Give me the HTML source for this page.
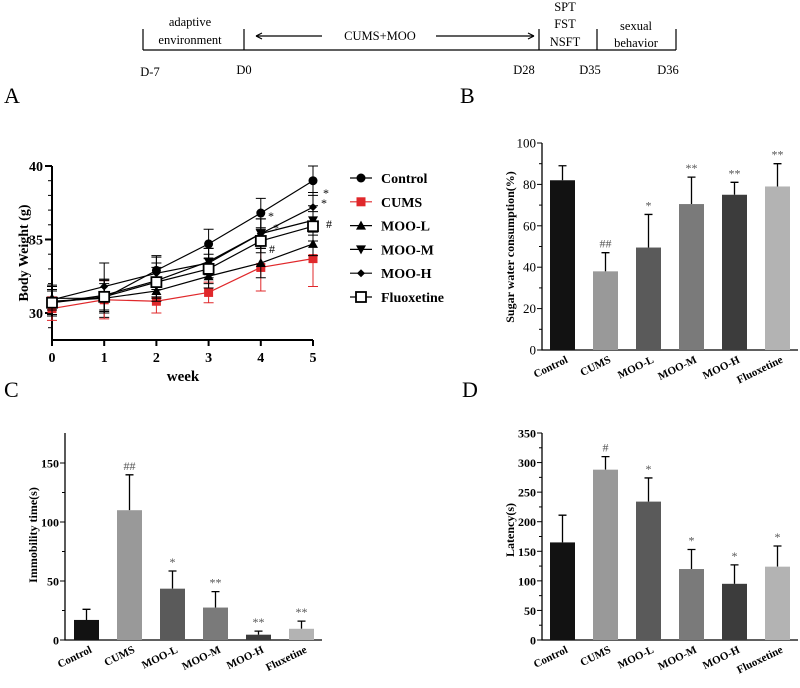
<!DOCTYPE html>
<html><head><meta charset="utf-8"><style>
body{margin:0;background:#fff;width:800px;height:683px;overflow:hidden}
svg{font-family:"Liberation Serif",serif}
</style></head><body>
<svg id="fig" width="800" height="683" viewBox="0 0 800 683" xmlns="http://www.w3.org/2000/svg">
<g stroke="#000" fill="none" stroke-width="1.2">
<line x1="143" y1="50" x2="676" y2="50"/>
<line x1="143" y1="29" x2="143" y2="50"/><line x1="244" y1="29" x2="244" y2="50"/>
<line x1="539" y1="29" x2="539" y2="50"/><line x1="597" y1="29" x2="597" y2="50"/><line x1="676" y1="29" x2="676" y2="50"/>
<line x1="256" y1="36" x2="322" y2="36"/><line x1="436" y1="36" x2="534" y2="36"/>
<path d="M256 36 l6 -3 M256 36 l6 3 M534 36 l-6 -3 M534 36 l-6 3"/>
</g>
<g font-size="12.5" text-anchor="middle" fill="#000">
<text x="190" y="26">adaptive</text><text x="190" y="44">environment</text>
<text x="380" y="40">CUMS+MOO</text>
<text x="565" y="11">SPT</text><text x="565" y="28">FST</text><text x="565" y="46">NSFT</text>
<text x="636" y="30">sexual</text><text x="636" y="47">behavior</text>
<text x="150" y="76">D-7</text><text x="244" y="74">D0</text><text x="524" y="74">D28</text><text x="590" y="74">D35</text><text x="668" y="74">D36</text>
</g>
<g font-size="22" fill="#000">
<text x="4" y="103">A</text>
<text x="460" y="103">B</text>
<text x="4" y="397">C</text>
<text x="462" y="397">D</text>
</g>
<g id="pa"></g>
<g id="pb"></g>
<g id="pc"></g>
<g id="pd"></g>
</svg>
<script>
const NS="http://www.w3.org/2000/svg";
// Panel A data
const weeks=[0,1,2,3,4,5];
const lineSeries=["Control","CUMS","MOO-L","MOO-M","MOO-H","Fluoxetine"];
const controlW=[30.8,31.0,32.9,34.7,36.8,39.0];
const cumsW=[30.3,30.9,30.8,31.4,33.1,33.7];
const mooLW=[31.0,31.0,31.5,32.5,33.4,34.7];
const mooMW=[30.7,31.2,32.2,33.5,35.4,36.3];
const mooHW=[30.9,31.8,32.7,33.4,35.4,37.2];
const fluoxW=[30.7,31.1,32.1,33.0,34.9,35.9];
const controlE=[1.0,1.3,1.0,1.0,1.0,1.0];
const cumsE=[0.8,1.3,0.8,0.7,1.6,1.9];
const mooLE=[0.8,1.0,0.7,0.8,1.0,0.8];
const mooME=[0.9,1.1,1.2,0.9,1.0,1.0];
const mooHE=[1.0,1.6,1.1,1.0,1.0,1.0];
const fluoxE=[0.8,1.1,1.0,1.0,0.8,1.0];
const weightTicks=[30,35,40];
// Bar panels
const groups=["Control","CUMS","MOO-L","MOO-M","MOO-H","Fluoxetine"];
const groupsC=["Control","CUMS","MOO-L","MOO-M","MOO-H","Fluxetine"];
const sucrose=[82,38,49.5,70.5,75,79];
const sucroseErr=[7,9,16,13,6,11];
const sucroseSig=["","##","*","**","**","**"];
const sucroseTicks=[0,20,40,60,80,100];
const immob=[17,110,43.5,27.5,4.5,9.5];
const immobErr=[9,30,15,13.5,3,6.5];
const immobSig=["","##","*","**","**","**"];
const immobTicks=[0,50,100,150];
const latency=[165,288,234,120,95,124];
const latencyErr=[46,22,40,33,32,35];
const latencySig=["","#","*","*","*","*"];
const latencyTicks=[0,50,100,150,200,250,300,350];

function el(p,t,a){const e=document.createElementNS(NS,t);for(const k in a)e.setAttribute(k,a[k]);p.appendChild(e);return e;}
function txt(p,x,y,s,a){const e=el(p,"text",Object.assign({x:x,y:y},a||{}));e.textContent=s;return e;}

// ---- Panel A
(function(){
const g=document.getElementById("pa");
const X=w=>52+w*52.2, Y=v=>313-(v-30)*14.7;
const ax=el(g,"path",{d:`M52 166 V340 H313`,stroke:"#000","stroke-width":2,fill:"none"});


for(let v=29;v<=40;v+=1){el(g,"line",{x1:48,x2:52,y1:Y(v),y2:Y(v),stroke:"#000","stroke-width":1});}
weightTicks.forEach(v=>{el(g,"line",{x1:45,x2:52,y1:Y(v),y2:Y(v),stroke:"#000","stroke-width":2});
 const t=txt(g,43,Y(v)+5,v,{"text-anchor":"end","font-size":14,"font-weight":"bold"});
 
 });
weeks.forEach(w=>{el(g,"line",{x1:X(w),x2:X(w),y1:340,y2:346,stroke:"#000","stroke-width":2});
 const t=txt(g,X(w),362,w,{"text-anchor":"middle","font-size":14,"font-weight":"bold"});
 
 });
const xt=txt(g,183,381,"week",{"text-anchor":"middle","font-size":15,"font-weight":"bold"});


const yt=txt(g,0,0,"Body Weight (g)",{"text-anchor":"middle","font-size":14,"font-weight":"bold",transform:"translate(28,253) rotate(-90)"});


const vals=[controlW,cumsW,mooLW,mooMW,mooHW,fluoxW], errs=[controlE,cumsE,mooLE,mooME,mooHE,fluoxE];
const cols=["#000","#e0282b","#000","#000","#000","#000"];
function marker(p,i,x,y){
 const c=cols[i];
 if(i==0)return el(p,"circle",{cx:x,cy:y,r:4.5,fill:c});
 if(i==1)return el(p,"rect",{x:x-4.5,y:y-4.5,width:9,height:9,fill:c});
 if(i==2)return el(p,"path",{d:`M${x} ${y-5} L${x+5} ${y+4} L${x-5} ${y+4}Z`,fill:c});
 if(i==3)return el(p,"path",{d:`M${x} ${y+5} L${x+5} ${y-4} L${x-5} ${y-4}Z`,fill:c});
 if(i==4)return el(p,"path",{d:`M${x} ${y-4} L${x+4} ${y} L${x} ${y+4} L${x-4} ${y}Z`,fill:c});
 return el(p,"rect",{x:x-5,y:y-5,width:10,height:10,fill:"#fff",stroke:c,"stroke-width":1.8});
}
vals.forEach((s,i)=>{
 const sg=el(g,"g",{});
 
 
 el(sg,"polyline",{points:s.map((v,k)=>X(weeks[k])+","+Y(v)).join(" "),fill:"none",stroke:cols[i],"stroke-width":1.2});
 s.forEach((v,k)=>{const x=X(weeks[k]),e=errs[i][k];
  el(sg,"path",{d:`M${x} ${Y(v-e)} V${Y(v+e)} M${x-5} ${Y(v-e)} h10 M${x-5} ${Y(v+e)} h10`,stroke:cols[i],"stroke-width":1,fill:"none"});
  const m=marker(sg,i,x,Y(v));
  
  
 });
});
[["*",323,197],["*",321,207],["#",326,228],["*",268,220],["*",273,232],["#",269,253]].forEach(a=>txt(g,a[1],a[2],a[0],{"font-size":12}));
lineSeries.forEach((n,i)=>{const y=178+i*23.8;
 const lg=el(g,"g",{});
 
 
 el(lg,"line",{x1:350,x2:372,y1:y,y2:y,stroke:cols[i],"stroke-width":1.2});
 marker(lg,i,361,y);
 txt(lg,381,y+5,n,{"font-size":14,"font-weight":"bold"});
});
})();

// ---- Bar charts
const barCols=["#121212","#999999","#5a5a5a","#7a7a7a","#3c3c3c","#b3b3b3"];
function barChart(id,vals,errs,sig,ticks,labels,o){
 const g=document.getElementById(id);
 const max=ticks[ticks.length-1];
 const Y=v=>o.y0-(v/max)*(o.y0-o.yTop);
 el(g,"path",{d:`M${o.x0} ${o.axTop} V${o.y0} H${o.x1}`,stroke:"#000","stroke-width":1.3,fill:"none"});
 ticks.forEach((t,k)=>{el(g,"line",{x1:o.x0-5,x2:o.x0,y1:Y(t),y2:Y(t),stroke:"#000"});
  if(k<ticks.length-1){const m=(t+ticks[k+1])/2;el(g,"line",{x1:o.x0-3,x2:o.x0,y1:Y(m),y2:Y(m),stroke:"#000"});}
  const tl=txt(g,o.x0-6,Y(t)+4.5,t,{"text-anchor":"end","font-size":o.tf,"font-weight":o.tw});
  
  });
 const yt=txt(g,0,0,o.title,{"text-anchor":"middle","font-size":12,"font-weight":"bold",transform:`translate(${o.tx},${o.ty}) rotate(-90)`});
 
 
 vals.forEach((v,i)=>{const x=o.bx+i*43,cx=x+12.5,e=errs[i];
  el(g,"path",{d:`M${cx} ${Y(v)} V${Y(v+e)} M${cx-4} ${Y(v+e)} h8`,stroke:"#000","stroke-width":1.3,fill:"none"});
  const b=el(g,"rect",{x:x,y:Y(v),width:25,height:o.y0-Y(v),fill:barCols[i]});
  
  
  if(sig[i])txt(g,cx,Y(v+e)-5,sig[i],{"text-anchor":"middle","font-size":12,fill:"#555"});
  const l=txt(g,0,0,labels[i],{"text-anchor":"end","font-size":11,"font-weight":"bold",transform:`translate(${cx+6},${o.y0+12}) rotate(-26)`});
  
  
 });
}
barChart("pb",sucrose,sucroseErr,sucroseSig,sucroseTicks,groups,{x0:542,x1:798,y0:350,yTop:143,axTop:143,bx:550,tf:13,tw:"normal",title:"Sugar water consumption(%)",tx:514,ty:247});
barChart("pc",immob,immobErr,immobSig,immobTicks,groupsC,{x0:65,x1:322,y0:640,yTop:463,axTop:433,bx:74,tf:12,tw:"bold",title:"Immobility time(s)",tx:37,ty:535});
barChart("pd",latency,latencyErr,latencySig,latencyTicks,groups,{x0:542,x1:798,y0:640,yTop:433,axTop:433,bx:550,tf:12,tw:"bold",title:"Latency(s)",tx:514,ty:530});
</script>
</body></html>
